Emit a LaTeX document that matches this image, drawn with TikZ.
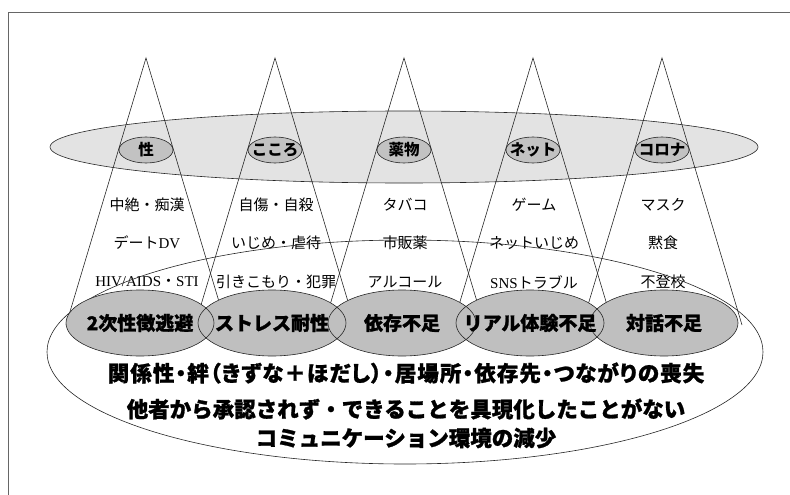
\documentclass[tikz,border=0pt]{standalone}
\usepackage{fontspec}
\setmainfont{Liberation Serif}
\newfontfamily\jp{Noto Sans CJK JP}
\newfontfamily\jph{Noto Sans CJK JP}[BoldFeatures={FakeBold=1.2}]
\newfontfamily\jpp{Noto Sans CJK JP}[RawFeature=+palt, LetterSpace=5, BoldFeatures={FakeBold=1.2}]
\begin{document}
\begin{tikzpicture}[x=1pt,y=-1pt,
  line/.style={draw=black!85, line width=0.6pt},
  frame/.style={draw=black!60, line width=0.9pt},
  topfill/.style={fill=black!11},
  labfill/.style={fill=black!24},
  botfill/.style={fill=black!25},
  toplab/.style={font=\jp\bfseries\fontsize{15.5}{16}\selectfont, inner sep=0pt},
  midlab/.style={font=\jp\fontsize{15}{16}\selectfont, inner sep=0pt},
  botlab/.style={font=\jph\bfseries\fontsize{19}{20}\selectfont, inner sep=0pt},
  biglab/.style={font=\jph\bfseries\fontsize{21.5}{22}\selectfont, inner sep=0pt}]

\useasboundingbox (0,0) rectangle (790,495);
\draw[frame] (8,495) -- (8,12) -- (790,12);

% top band
\coordinate (band) at (404,147);
\filldraw[topfill, line] (band) ellipse [x radius=354pt, y radius=36pt];

% cones
\foreach \i/\x in {1/146,2/275,3/404,4/533,5/662}{
  \coordinate (apex\i) at (\x,58);
  \coordinate (bl\i) at ({\x-80},325);
  \coordinate (br\i) at ({\x+80},325);
  \draw[line] (bl\i) -- (apex\i) -- (br\i);
}

% small category ellipses
\foreach \i/\x/\t in {1/146/性,2/275/こころ,3/404/薬物,4/533/ネット,5/662/コロナ}{
  \coordinate (c\i) at (\x,150);
  \filldraw[labfill, line] (c\i) ellipse [x radius=27pt, y radius=13pt];
  \node[toplab] (t\i) at (c\i) {\t};
}

% middle texts
\node[midlab] (m11) at (147,205) {中絶・痴漢};
\node[midlab] (m12) at (147,243) {デート{\rmfamily DV}};
\node[midlab] (m13) at (147,282) {{\rmfamily HIV/AIDS}・{\rmfamily STI}};
\node[midlab] (m21) at (276,205) {自傷・自殺};
\node[midlab] (m22) at (276,243) {いじめ・虐待};
\node[midlab] (m23) at (276,282) {引きこもり・犯罪};
\node[midlab] (m31) at (405,205) {タバコ};
\node[midlab] (m32) at (405,243) {市販薬};
\node[midlab] (m33) at (405,282) {アルコール};
\node[midlab] (m41) at (534,205) {ゲーム};
\node[midlab] (m42) at (534,243) {ネットいじめ};
\node[midlab] (m43) at (534,282) {{\rmfamily SNS}トラブル};
\node[midlab] (m51) at (663,205) {マスク};
\node[midlab] (m52) at (663,243) {黙食};
\node[midlab] (m53) at (663,282) {不登校};

% large outline ellipse
\coordinate (bigc) at (405,352);
\draw[line] (bigc) ellipse [x radius=358pt, y radius=112pt];

% bottom ellipses
\foreach \i/\x in {1/140,2/272,3/402,4/530,5/664}{
  \coordinate (e\i) at (\x,323);
  \fill[botfill] (e\i) ellipse [x radius=74pt, y radius=33pt];
}
\foreach \i in {1,...,5}{
  \draw[line] (e\i) ellipse [x radius=74pt, y radius=33pt];
}
\node[botlab] (b1) at (e1) {2次性徴逃避};
\node[botlab] (b2) at (e2) {ストレス耐性};
\node[botlab] (b3) at (e3) {依存不足};
\node[botlab] (b4) at (e4) {リアル体験不足};
\node[botlab] (b5) at (e5) {対話不足};

% bottom statements
\node[biglab, font=\jpp\bfseries\fontsize{21.5}{22}\selectfont] (s1) at (406,373) {関係性・絆（きずな＋ほだし）・居場所・依存先・つながりの喪失};
\node[biglab] (s2) at (406,409) {他者から承認されず・できることを具現化したことがない};
\node[biglab] (s3) at (406,438) {コミュニケーション環境の減少};
\end{tikzpicture}
\end{document}
